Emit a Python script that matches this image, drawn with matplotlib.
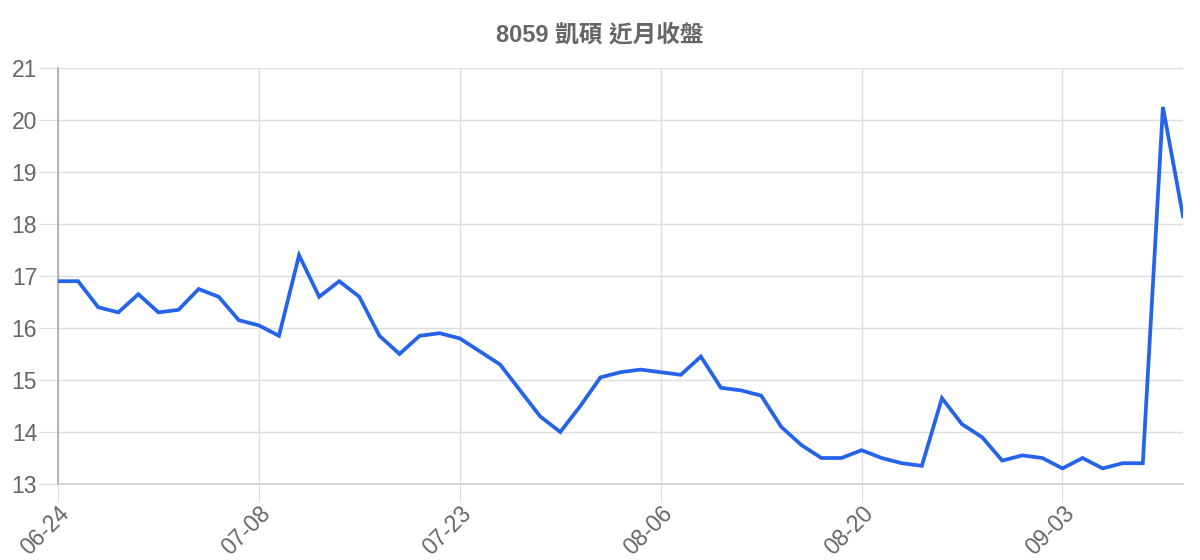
import matplotlib
matplotlib.use("Agg")
import matplotlib.pyplot as plt

dates = [
    "06-24", "06-25", "06-26", "06-27", "06-30", "07-01", "07-02", "07-03", "07-04", "07-07",
    "07-08", "07-09", "07-10", "07-11", "07-14", "07-15", "07-16", "07-17", "07-18", "07-22",
    "07-23", "07-24", "07-25", "07-28", "07-29", "07-30", "07-31", "08-01", "08-04", "08-05",
    "08-06", "08-07", "08-08", "08-11", "08-12", "08-13", "08-14", "08-15", "08-18", "08-19",
    "08-20", "08-21", "08-22", "08-25", "08-26", "08-27", "08-28", "08-29", "09-01", "09-02",
    "09-03", "09-04", "09-05", "09-08", "09-09", "09-10", "09-11",
]

closes = [
    16.9, 16.9, 16.4, 16.3, 16.65, 16.3, 16.35, 16.75, 16.6, 16.15,
    16.05, 15.85, 17.4, 16.6, 16.9, 16.6, 15.85, 15.5, 15.85, 15.9,
    15.8, 15.55, 15.3, 14.8, 14.3, 14.0, 14.5, 15.05, 15.15, 15.2,
    15.15, 15.1, 15.45, 14.85, 14.8, 14.7, 14.1, 13.75, 13.5, 13.5,
    13.65, 13.5, 13.4, 13.35, 14.65, 14.15, 13.9, 13.45, 13.55, 13.5,
    13.3, 13.5, 13.3, 13.4, 13.4, 20.25, 18.15,
]

y_ticks = [13, 14, 15, 16, 17, 18, 19, 20, 21]
tick_every = 10

text_color = "#666666"
grid_color = "#dddddd"
line_color = "#2563eb"

plt.rcParams["font.family"] = ["Liberation Sans", "Noto Sans CJK TC", "DejaVu Sans"]

fig = plt.figure(figsize=(12, 5.6), dpi=100)
ax = fig.add_axes([58 / 1200, 1 - 484 / 560, (1183 - 58) / 1200, (484 - 68) / 560])

x = list(range(len(closes)))
ax.plot(x, closes, color=line_color, linewidth=2.7, solid_joinstyle="miter", zorder=3)

ax.set_xlim(0, len(closes) - 1)
ax.set_ylim(13, 21)
ax.set_yticks(y_ticks)
ax.set_xticks(x[::tick_every])
ax.set_xticklabels(dates[::tick_every], rotation=45, ha="right", va="top",
                   rotation_mode="anchor")

ax.grid(True, color=grid_color, linewidth=1.0, zorder=0)
ax.tick_params(axis="y", length=14, color=grid_color, labelcolor=text_color,
               labelsize=16.5, pad=1)
ax.tick_params(axis="x", length=13, color=grid_color, labelcolor=text_color,
               labelsize=16.5, pad=0)

for side in ["top", "right"]:
    ax.spines[side].set_visible(False)
ax.spines["left"].set_color("#aaaaaa")
ax.spines["bottom"].set_color("#cccccc")
ax.spines["left"].set_linewidth(1.2)
ax.spines["bottom"].set_linewidth(1.2)

fig.text(0.5, 1 - 35 / 560, "8059 凱碩 近月收盤", ha="center", va="center",
         fontsize=17, fontweight="bold", color=text_color)

fig.savefig("out.png", dpi=100)
